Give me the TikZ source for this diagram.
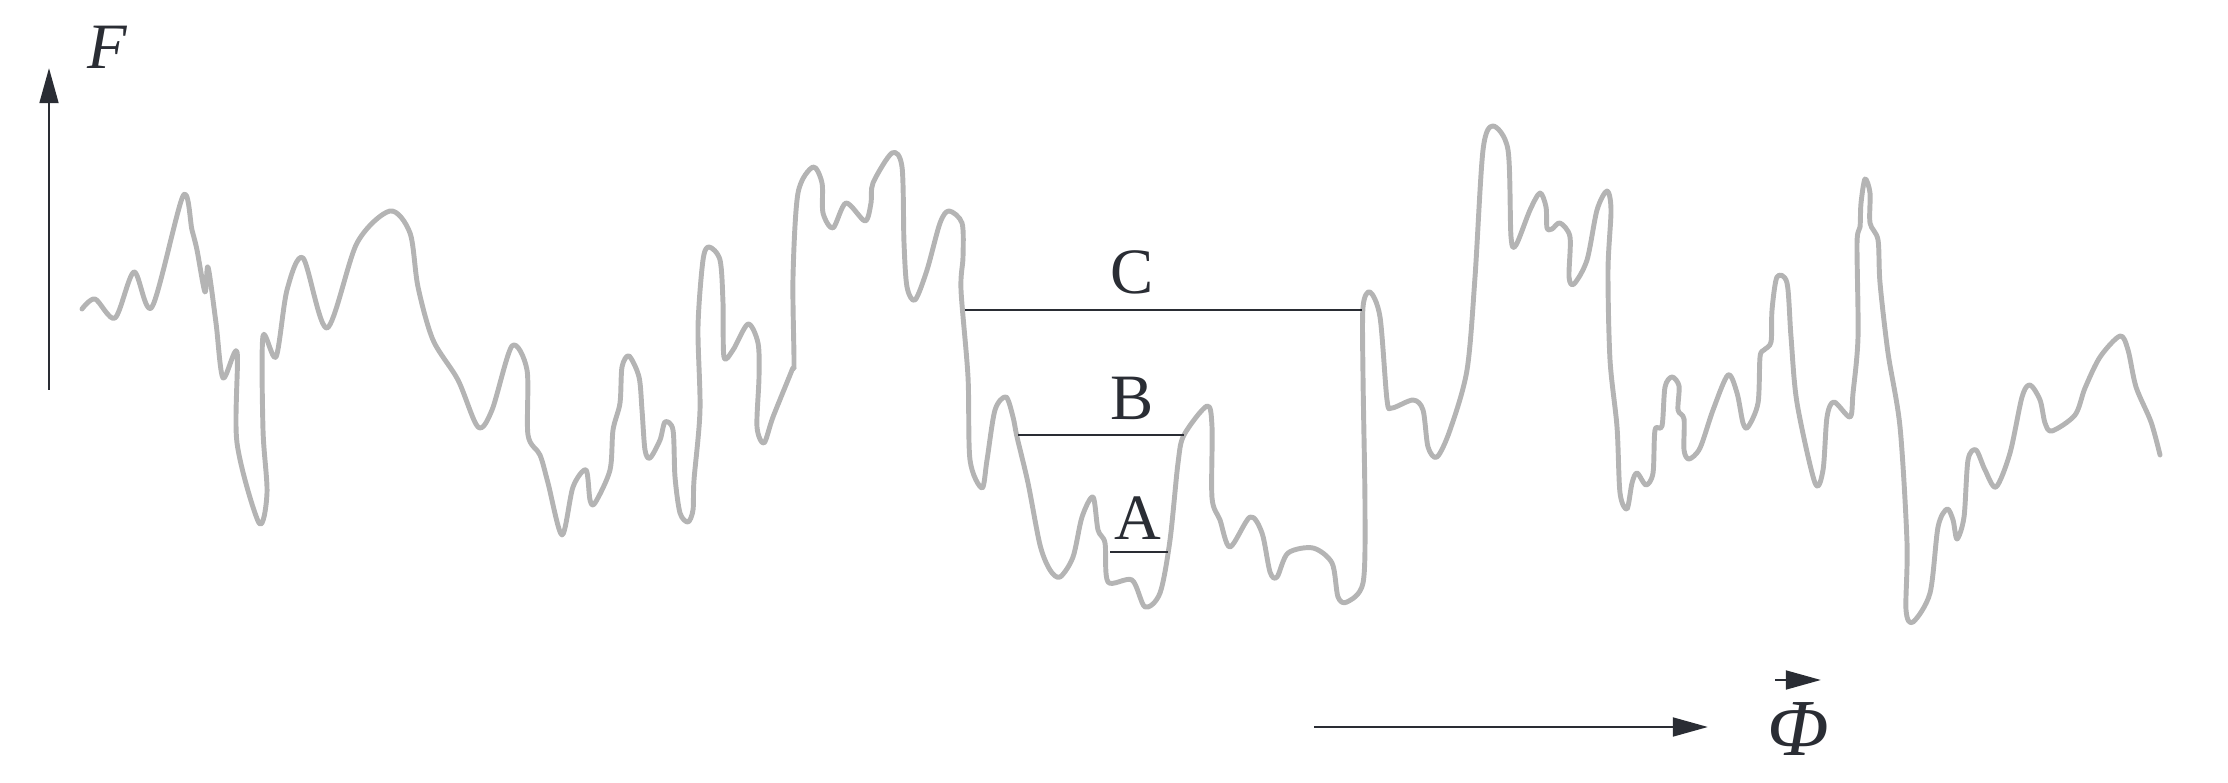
\documentclass[tikz,border=0pt]{standalone}
\usepackage{fontspec}
\setmainfont{Liberation Serif}
\usepackage{xcolor}
\usepackage{tikz}
\usetikzlibrary{arrows.meta, positioning}
\definecolor{curvegray}{RGB}{180, 180, 180}
\definecolor{inkdark}{RGB}{42, 45, 52}
\tikzset{
  profile/.style={draw=curvegray, line width=1.4pt, line join=round, line cap=round},
  level/.style={draw=inkdark, line width=0.8pt},
  axisarrow/.style={-{Triangle[length=10pt, width=5.3pt]}, draw=inkdark, line width=0.85pt},
  lbl/.style={text=inkdark, inner sep=0pt, font=\fontsize{18.4}{22}\selectfont},
}

\begin{document}
\begin{tikzpicture}[x=0.01cm, y=-0.01cm]
  \useasboundingbox (0,0) rectangle (2228,783);

  % force axis
  \coordinate (faxbot) at (49,390);
  \coordinate (faxtop) at (49,68);
  \draw[axisarrow] (faxbot) -- (faxtop);
  \node[lbl] (flabel) at (108,47) {\textit{F}};

  % rough profile
  \draw[profile] plot[smooth, tension=0.5] coordinates {
    (82,309) (95,299) (115,318) (134,272) (152,307) (183,196) (192,230) (197,250)
    (205,292) (208,267) (216,323) (223,378) (237,352) (237,443) (259,523) (267,493)
    (263,430) (263,336) (276,357) (287,290) (303,258) (327,328) (357,243) (390,211)
    (410,233) (418,287) (433,340) (458,380) (478,427) (492,410) (512,346) (527,370)
    (528,435) (540,455) (548,483) (562,535) (573,487) (586,470) (590,500) (595,503)
    (610,470) (613,430) (620,403) (622,367) (629,356) (639,377) (642,410) (645,450)
    (650,458) (660,440) (665,422) (673,430) (675,477) (680,513) (688,522) (693,510)
    (694,480) (700,410) (698,327) (703,260) (709,247) (720,260) (723,303) (724,357)
    (733,350) (748,324) (758,343) (759,377) (757,427) (764,443) (773,417) (792,370)
    (794,363) (793,277) (798,193) (813,167) (822,183) (823,213) (833,228) (846,203)
    (865,221) (871,203) (873,183) (892,153) (902,167) (904,243) (907,287) (915,300)
    (927,270) (940,223) (949,211) (962,223) (963,257) (961,290) (968,377) (970,460)
    (982,488) (987,460) (995,410) (1006,397) (1013,417) (1017,437) (1028,483) (1040,545)
    (1050,570) (1060,577) (1073,557) (1082,517) (1093,497) (1098,530) (1105,543) (1108,582)
    (1132,580) (1145,607) (1160,593) (1170,540) (1178,463) (1184,435) (1207,406) (1212,427)
    (1212,498) (1220,520) (1230,547) (1250,517) (1262,533) (1270,572) (1277,577) (1288,553)
    (1313,548) (1332,563) (1338,597) (1347,602) (1363,583) (1365,510) (1363,377) (1363,307)
    (1370,292) (1380,317) (1387,400) (1392,408) (1413,400) (1423,410) (1428,447) (1437,457)
    (1450,430) (1467,370) (1475,277) (1483,150) (1493,126) (1508,150) (1511,237) (1516,245)
    (1530,210) (1540,193) (1546,207) (1547,228) (1552,229) (1560,223) (1570,237) (1569,277)
    (1574,284) (1587,260) (1597,210) (1607,191) (1611,210) (1608,270) (1610,360) (1617,427)
    (1620,493) (1627,509) (1632,483) (1637,473) (1646,485) (1653,473) (1655,430) (1662,426)
    (1665,387) (1672,377) (1679,386) (1678,410) (1684,419) (1684,450) (1689,459) (1700,448)
    (1713,410) (1728,375) (1737,393) (1743,423) (1748,427) (1758,403) (1760,357) (1764,350)
    (1771,342) (1772,310) (1777,277) (1787,283) (1791,337) (1797,403) (1815,483) (1823,470)
    (1827,417) (1834,402) (1850,417) (1853,393) (1858,337) (1857,243) (1860,227) (1861,203)
    (1865,179) (1870,193) (1870,223) (1878,240) (1880,283) (1888,353) (1900,427) (1907,543)
    (1906,610) (1913,622) (1930,593) (1938,527) (1947,509) (1953,520) (1957,539) (1964,517)
    (1968,460) (1976,450) (1985,470) (1996,487) (2010,453) (2022,397) (2030,385) (2040,400)
    (2045,423) (2052,431) (2075,415) (2085,388) (2100,357) (2120,336) (2128,350) (2136,387)
    (2151,422) (2160,455)};

  % levels
  \coordinate (cleft) at (965,310);
  \coordinate (cright) at (1362,310);
  \coordinate (bleft) at (1018,435);
  \coordinate (bright) at (1184,435);
  \coordinate (aleft) at (1110,552);
  \coordinate (aright) at (1168,552);
  \draw[level] (cleft) -- (cright);
  \draw[level] (bleft) -- (bright);
  \draw[level] (aleft) -- (aright);
  \node[lbl] (labc) at (1132,272) {C};
  \node[lbl] (labb) at (1132,398) {B};
  \node[lbl] (laba) at (1138,518) {A};

  % phi axis
  \coordinate (phaxl) at (1314,727);
  \coordinate (phaxr) at (1708,727);
  \draw[axisarrow] (phaxl) -- (phaxr);
  \node[lbl, font=\fontsize{23}{27}\selectfont] (philabel) at (1798,729) {\textit{Φ}};
  \coordinate (vecl) at (1775,680);
  \coordinate (vecr) at (1821,680);
  \draw[axisarrow] (vecl) -- (vecr);
\end{tikzpicture}
\end{document}
